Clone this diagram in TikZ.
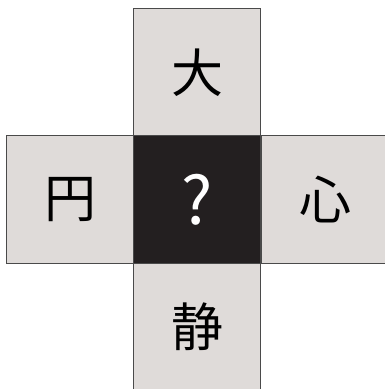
\documentclass[tikz,border=0pt]{standalone}
\usepackage{fontspec}
\newfontfamily\cjk{Noto Sans CJK JP}
\definecolor{cellgray}{HTML}{DFDBD9}
\definecolor{celldark}{HTML}{231F20}
\definecolor{edge}{HTML}{4A4A4A}
\begin{document}
\begin{tikzpicture}[x=1pt,y=-1pt,
  cell/.style={draw=edge,line width=0.9pt,fill=cellgray,minimum size=127.5pt,inner sep=0pt,outer sep=0pt,
    font=\cjk\fontsize{52}{52}\selectfont,text=black},
  darkcell/.style={cell,fill=celldark,text=white,font=\cjk\fontsize{66}{66}\selectfont}]
\useasboundingbox (0,0) rectangle (385,389);
\node[cell] (top) at (197,72.5) {大};
\node[cell] (left) at (70,199.5) {円};
\node[cell] (right) at (325,199.5) {心};
\node[cell] (bottom) at (197,326.5) {静};
\node[darkcell] (mid) at (197,199.5) {?};
\end{tikzpicture}
\end{document}
